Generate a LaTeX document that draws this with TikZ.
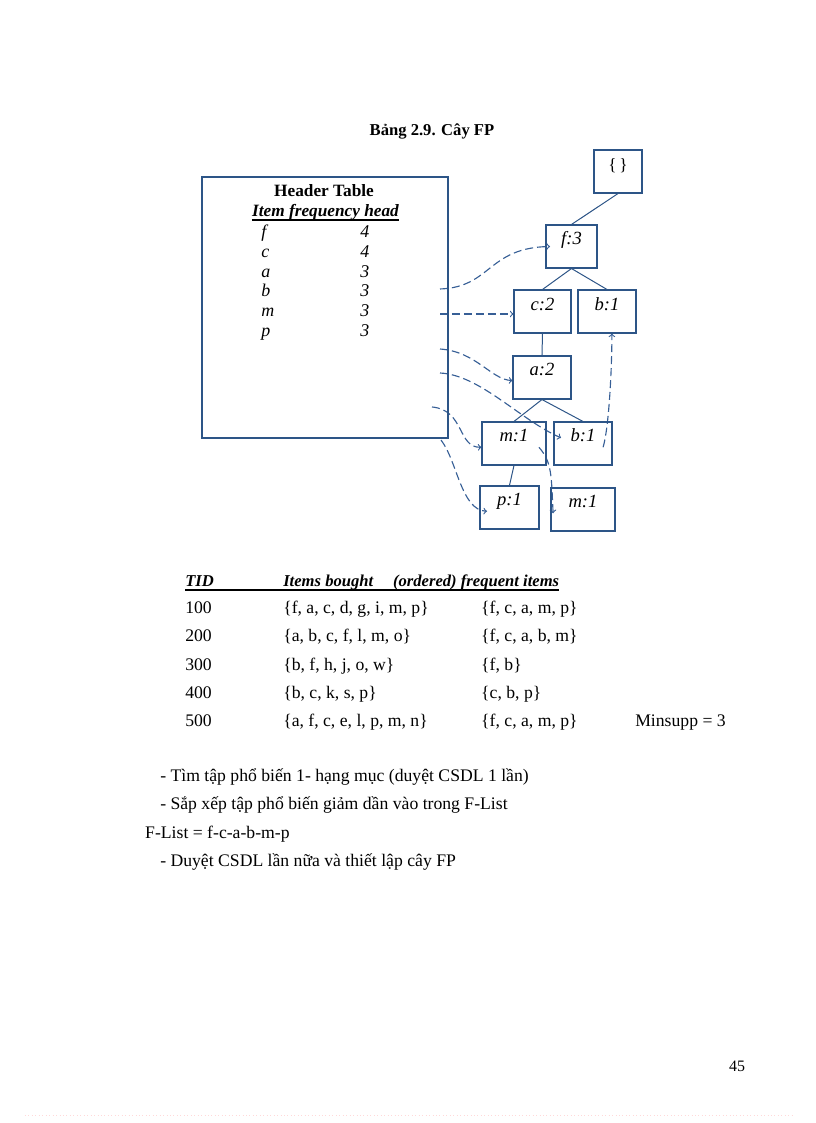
\documentclass[tikz,border=0pt]{standalone}
\usepackage{fontspec}
\setmainfont{Liberation Serif}
\usepackage{tikz}
\pgfdeclarelayer{bg}
\pgfsetlayers{bg,main}
\definecolor{boxblue}{RGB}{45,85,135}
\definecolor{linkblue}{RGB}{55,95,150}
\tikzset{
  fpnode/.style={draw=boxblue, line width=0.8pt, minimum height=1.138cm, inner sep=0pt,
    text height=0.32cm, text depth=0.40cm, font=\fontsize{14}{16}\selectfont\itshape},
  hdlink/.style={draw=linkblue, line width=0.85pt, dash pattern=on 6pt off 3pt, ->},
  treeedge/.style={draw=boxblue, line width=0.75pt},
  body/.style={anchor=base west, inner sep=0pt, font=\fontsize{13.3}{16}\selectfont},
  hitem/.style={anchor=base west, inner sep=0pt, font=\fontsize{13.5}{16}\selectfont\itshape}
}

\begin{document}
\begin{tikzpicture}
        \useasboundingbox (0cm, 0cm) rectangle (21.590000cm, -29.713000cm);
        \node (title) [anchor=base, inner sep=0pt, font=\fontsize{12.5}{15}\selectfont\bfseries] at (11.430000cm, -3.598000cm) {Bảng 2.9. Cây FP};
        % header table
        \node (htab) [draw=boxblue, line width=0.8pt, minimum width=6.509cm, minimum height=6.906cm] at (8.599000cm, -8.136000cm) {};
        \node (htitle) [anchor=base, inner sep=0pt, font=\fontsize{13}{15}\selectfont\bfseries] at (8.573000cm, -5.212000cm) {Header Table};
        \node (hcols) [anchor=base, inner sep=0pt, font=\fontsize{13}{15}\selectfont\bfseries\itshape] at (8.612000cm, -5.741000cm) {Item frequency head};
        \draw [line width=1.2pt] ([yshift=-2.2pt]hcols.base west) -- ([yshift=-2.2pt]hcols.base east);
        \foreach \it/\fr/\y in {f/4/6.271, c/4/6.800, a/3/7.329, b/3/7.858, m/3/8.387, p/3/8.916} {
                \node (hi\it) [hitem] at (6.906000cm, -\y cm) {\it};
                \node (hn\it) [hitem] at (9.525000cm, -\y cm) {\fr};
        }
        \coordinate (hf) at (11.642000cm, -7.646000cm);
        \coordinate (hc) at (11.642000cm, -8.308000cm);
        \coordinate (ha) at (11.642000cm, -9.234000cm);
        \coordinate (hb) at (11.642000cm, -9.869000cm);
        \coordinate (hm) at (11.430000cm, -10.768000cm);
        \coordinate (hp) at (11.668000cm, -11.642000cm);
        % FP tree
        \node (root) [fpnode, minimum width=1.270cm, font=\fontsize{13}{15}\selectfont] at (16.351000cm, -4.538000cm) {\{\,\}};
        \node (f3) [fpnode, minimum width=1.349cm] at (15.121000cm, -6.522000cm) {f:3};
        \node (c2) [fpnode, minimum width=1.508cm] at (14.354000cm, -8.242000cm) {c:2};
        \node (b1a) [fpnode, minimum width=1.535cm] at (16.060000cm, -8.242000cm) {b:1};
        \node (a2) [fpnode, minimum width=1.535cm] at (14.340000cm, -9.988000cm) {a:2};
        \node (m1a) [fpnode, minimum width=1.693cm] at (13.599000cm, -11.734000cm) {m:1};
        \node (b1b) [fpnode, minimum width=1.535cm] at (15.425000cm, -11.734000cm) {b:1};
        \node (p1) [fpnode, minimum width=1.561cm] at (13.480000cm, -13.427000cm) {p:1};
        \node (m1b) [fpnode, minimum width=1.693cm] at (15.425000cm, -13.480000cm) {m:1};
        \begin{pgfonlayer}{bg}
                \draw [treeedge] (root.south) -- (f3.north);
                \draw [treeedge] (f3.south) -- (c2.north);
                \draw [treeedge] (f3.south) -- (b1a.north);
                \draw [treeedge] (c2.south) -- (a2.north);
                \draw [treeedge] (a2.south) -- (m1a.north);
                \draw [treeedge] (a2.south) -- (b1b.north);
                \draw [treeedge] (m1a.south) -- (p1.north);
                \draw [hdlink] (hf) .. controls (13.000000, -7.600000) and (12.900000, -6.550000) .. ([xshift=0.12cm]f3.west);
                \draw [hdlink] (hc) -- (hc -| c2.west);
                \draw [hdlink] (ha) .. controls (12.600000, -9.300000) and (13.000000, -10.050000) .. ([yshift=-0.08cm]a2.west);
                \draw [hdlink] (hb) .. controls (12.700000, -9.920000) and (13.760000, -11.110000) .. ([xshift=0.2cm, yshift=0.15cm]b1b.west);
                \draw [hdlink] (hm) .. controls (12.300000, -10.850000) and (12.100000, -11.850000) .. ([yshift=-0.1cm]m1a.west);
                \draw [hdlink] (hp) .. controls (12.100000, -12.200000) and (12.200000, -13.500000) .. ([xshift=0.2cm, yshift=-0.1cm]p1.west);
                \draw [hdlink] ([xshift=-0.2cm, yshift=-0.1cm]m1a.east) .. controls +(0.35, -0.4) and +(-0.05, 1.0) .. ([xshift=0.07cm, yshift=-0.1cm]m1b.west);
                \draw [hdlink] ([xshift=-0.25cm, yshift=-0.1cm]b1b.east) .. controls +(0.15, 0.5) and +(0, -1.0) .. ([xshift=0.13cm]b1a.south);
        \end{pgfonlayer}
        % transactions
        \node (tid) [body, font=\fontsize{12.5}{15}\selectfont\bfseries\itshape] at (4.895000cm, -15.505000cm) {TID};
        \node (ihead) [body, font=\fontsize{12.5}{15}\selectfont\bfseries\itshape] at (7.488000cm, -15.505000cm) {Items bought\hspace{1.2em}(ordered) frequent items};
        \draw [line width=1.2pt] ([yshift=-3pt]tid.base west) -- ([yshift=-3pt]ihead.base east);
        \node (t1) [body] at (4.895000cm, -16.245000cm) {100};
        \node (t2) [body] at (4.895000cm, -16.986000cm) {200};
        \node (t3) [body] at (4.895000cm, -17.727000cm) {300};
        \node (t4) [body] at (4.895000cm, -18.468000cm) {400};
        \node (t5) [body] at (4.895000cm, -19.209000cm) {500};
        \node (i1) [body] at (7.488000cm, -16.245000cm) {\{f, a, c, d, g, i, m, p\}};
        \node (i2) [body] at (7.488000cm, -16.986000cm) {\{a, b, c, f, l, m, o\}};
        \node (i3) [body] at (7.488000cm, -17.727000cm) {\{b, f, h, j, o, w\}};
        \node (i4) [body] at (7.488000cm, -18.468000cm) {\{b, c, k, s, p\}};
        \node (i5) [body] at (7.488000cm, -19.209000cm) {\{a, f, c, e, l, p, m, n\}};
        \node (o1) [body] at (12.726000cm, -16.245000cm) {\{f, c, a, m, p\}};
        \node (o2) [body] at (12.726000cm, -16.986000cm) {\{f, c, a, b, m\}};
        \node (o3) [body] at (12.726000cm, -17.727000cm) {\{f, b\}};
        \node (o4) [body] at (12.726000cm, -18.468000cm) {\{c, b, p\}};
        \node (o5) [body] at (12.726000cm, -19.209000cm) {\{f, c, a, m, p\}};
        \node (minsupp) [body] at (16.801000cm, -19.209000cm) {Minsupp = 3};
        % steps
        \node (s1) [body] at (4.233000cm, -20.690000cm) {- Tìm tập phổ biến 1- hạng mục (duyệt CSDL 1 lần)};
        \node (s2) [body] at (4.233000cm, -21.431000cm) {- Sắp xếp tập phổ biến giảm dần vào trong F-List};
        \node (s3) [body] at (3.836000cm, -22.172000cm) {F-List = f-c-a-b-m-p};
        \node (s4) [body] at (4.233000cm, -22.913000cm) {- Duyệt CSDL lần nữa và thiết lập cây FP};
        \node (pgno) [anchor=base, inner sep=0pt, font=\fontsize{12}{14}\selectfont] at (19.500000cm, -28.363000cm) {45};
        \draw [red!15, line width=0.6pt, dotted] (0.661000cm, -29.501000cm) -- (21.034000cm, -29.501000cm);
\end{tikzpicture}
\end{document}
